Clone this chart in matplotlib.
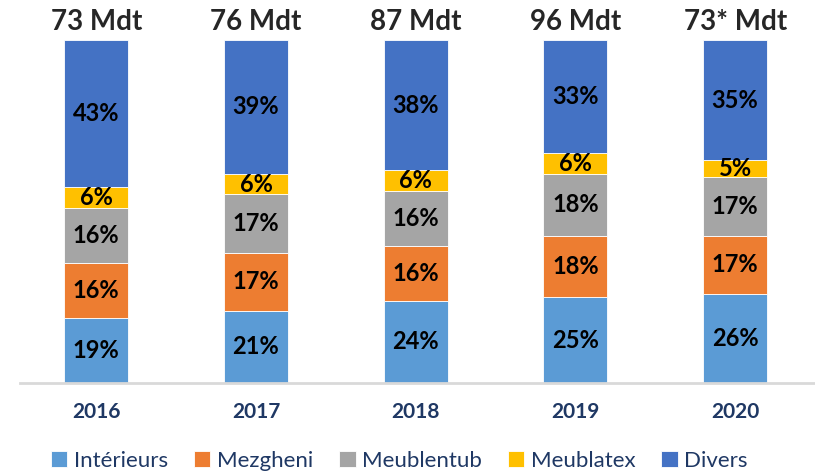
import matplotlib
matplotlib.use("Agg")
import matplotlib.pyplot as plt
import numpy as np

years = ["2016", "2017", "2018", "2019", "2020"]
totals = ["73 Mdt", "76 Mdt", "87 Mdt", "96 Mdt", "73* Mdt"]
series_names = ["Intérieurs", "Mezgheni", "Meublentub", "Meublatex", "Divers"]
interieurs = [19, 21, 24, 25, 26]
mezgheni = [16, 17, 16, 18, 17]
meublentub = [16, 17, 16, 18, 17]
meublatex = [6, 6, 6, 6, 5]
divers = [43, 39, 38, 33, 35]
colors = ["#5B9BD5", "#ED7D31", "#A5A5A5", "#FFC000", "#4472C4"]

plt.rcParams['font.family'] = ['Lato', 'DejaVu Sans']

fig = plt.figure(figsize=(8.15, 4.74), dpi=100)
ax = fig.add_axes([0.025, 0.192, 0.975, 0.7236])

x = np.arange(len(years))
data = [interieurs, mezgheni, meublentub, meublatex, divers]
bottom = np.zeros(len(years))
for name, vals, c in zip(series_names, data, colors):
    vals = np.array(vals, dtype=float)
    ax.bar(x, vals, 0.4, bottom=bottom, color=c, label=name,
           edgecolor="white", linewidth=0.6)
    for xi, b, v in zip(x, bottom, vals):
        ax.text(xi, b + v / 2, f"{int(v)}%", ha="center", va="center",
                fontsize=17, fontweight="bold", color="black")
    bottom += vals

for xi, t in zip(x, totals):
    ax.text(xi, 101.5, t, ha="center", va="bottom", fontsize=20,
            fontweight="bold", color="#262626")

ax.set_xlim(-0.475, 4.5)
ax.set_ylim(0, 100)
ax.set_yticks([])
ax.set_xticks(x)
ax.set_xticklabels(years, fontsize=15, fontweight="bold", color="#1F3864")
ax.tick_params(axis="x", length=0, pad=14)
for s in ["top", "right", "left"]:
    ax.spines[s].set_visible(False)
ax.spines["bottom"].set_color("#D9D9D9")
ax.spines["bottom"].set_linewidth(2)

leg = fig.legend(loc="lower center", bbox_to_anchor=(0.49, -0.035), ncol=5,
                 frameon=False, fontsize=16, handlelength=0.75,
                 handleheight=0.75, handletextpad=0.3, columnspacing=1.15)
for t in leg.get_texts():
    t.set_color("#1F3864")

fig.savefig("out.png", dpi=100)
